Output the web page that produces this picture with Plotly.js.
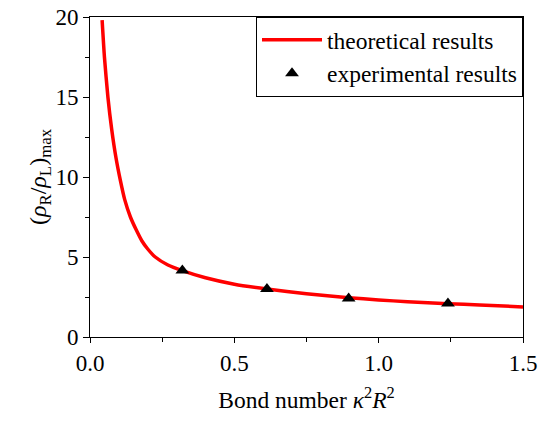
<!DOCTYPE html>
<html>
<head>
<meta charset="utf-8">
<script src="https://cdn.plot.ly/plotly-3.0.1.min.js"></script>
<style>html,body{margin:0;padding:0;background:#fff;}#chart{width:539px;height:424px;}</style>
</head>
<body>
<div id="chart"></div>
<script>
// theoretical curve
var theoryX = [0.042, 0.05, 0.062, 0.075, 0.09, 0.105, 0.12, 0.14, 0.16, 0.18, 0.2, 0.226, 0.27, 0.32, 0.4, 0.5, 0.613, 0.75, 0.896, 1.0, 1.1, 1.24, 1.35, 1.5];
var theoryY = [19.8, 17.5, 15.0, 13.0, 11.2, 9.8, 8.6, 7.5, 6.7, 6.0, 5.5, 5.0, 4.5, 4.15, 3.7, 3.3, 3.0, 2.7, 2.45, 2.32, 2.2, 2.08, 2.0, 1.88];
// experimental points
var expX = [0.32, 0.613, 0.896, 1.24];
var expY = [4.15, 3.0, 2.4, 2.09];

var FAM = '"Liberation Serif", "Times New Roman", Times, serif';

var traces = [
  {x: theoryX, y: theoryY, type: 'scatter', mode: 'lines', name: 'theoretical results',
   line: {color: '#ff0000', width: 3.5, shape: 'spline', smoothing: 0.6}},
  {x: expX, y: expY, type: 'scatter', mode: 'markers', name: 'experimental results',
   marker: {symbol: 'triangle-up', size: 12, color: '#000'}}
];

var layout = {
  width: 539, height: 424,
  margin: {l: 89.5, r: 15.5, t: 16.7, b: 87.3},
  paper_bgcolor: '#fff', plot_bgcolor: '#fff',
  font: {family: FAM, size: 23, color: '#000'},
  showlegend: true,
  legend: {x: 1, xanchor: 'right', y: 1, yanchor: 'top', bordercolor: '#000', borderwidth: 1,
           itemwidth: 60,
           bgcolor: '#fff', font: {family: FAM, size: 23.5, color: '#000'}, tracegroupgap: 0},
  xaxis: {
    range: [0, 1.5], dtick: 0.5, tick0: 0, tickformat: '.1f',
    tickfont: {family: FAM, size: 23, color: '#000'},
    showline: true, mirror: true, linecolor: '#000', linewidth: 1,
    ticks: 'outside', ticklen: 5, tickcolor: '#000', showgrid: false, zeroline: false,
    minor: {dtick: 0.25, ticks: 'outside', ticklen: 4, tickcolor: '#000', showgrid: false},
    title: {text: 'Bond number <i>κ</i><sup>2</sup><i>R</i><sup>2</sup>', font: {family: FAM, size: 23.5, color: '#000'}, standoff: 16}
  },
  yaxis: {
    range: [0, 20], dtick: 5, tick0: 0,
    tickfont: {family: FAM, size: 23, color: '#000'},
    showline: true, mirror: true, linecolor: '#000', linewidth: 1,
    ticks: 'outside', ticklen: 6, tickcolor: '#000', showgrid: false, zeroline: false,
    minor: {dtick: 2.5, ticks: 'outside', ticklen: 4, tickcolor: '#000', showgrid: false},
    title: {text: '(<i>ρ</i><sub>R</sub>/<i>ρ</i><sub>L</sub>)<sub>max</sub>', font: {family: FAM, size: 24, color: '#000'}, standoff: 1}
  }
};

Plotly.newPlot('chart', traces, layout, {displayModeBar: false, staticPlot: true});
</script>
</body>
</html>
